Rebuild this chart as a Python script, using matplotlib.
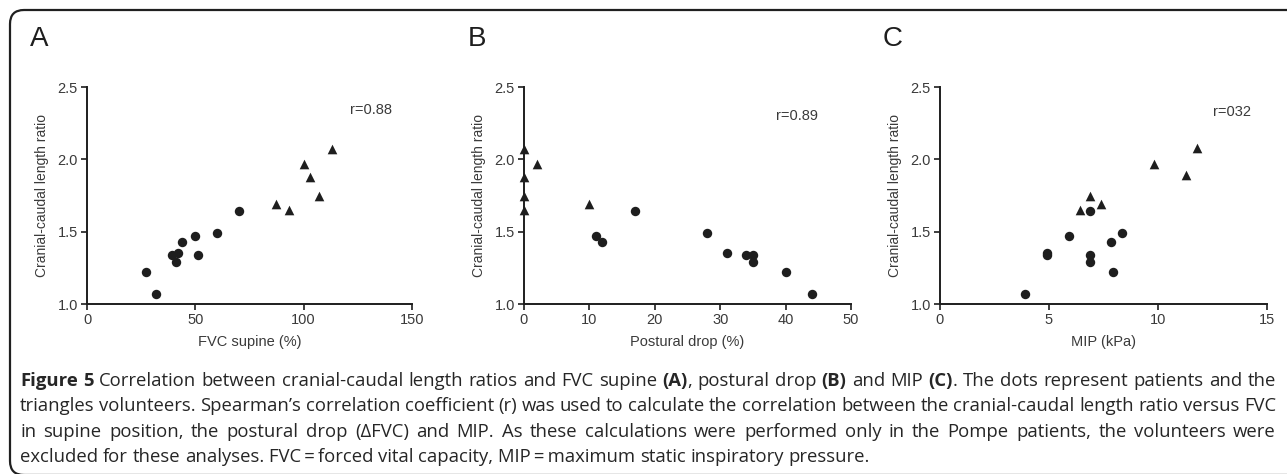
import matplotlib
matplotlib.use("Agg")
import matplotlib.pyplot as plt
import matplotlib.transforms as mtransforms
from matplotlib.patches import FancyBboxPatch

# Panel A: FVC supine (%)
a_pat_x = [27, 32, 39, 42, 41, 44, 50, 51, 60, 70]
a_pat_y = [1.22, 1.07, 1.34, 1.35, 1.29, 1.43, 1.47, 1.34, 1.49, 1.64]
a_vol_x = [87, 93, 100, 103, 107, 113]
a_vol_y = [1.69, 1.65, 1.97, 1.88, 1.75, 2.07]

# Panel B: postural drop (%)
b_pat_x = [11, 12, 17, 28, 31, 34, 35, 35, 40, 44]
b_pat_y = [1.47, 1.43, 1.64, 1.49, 1.35, 1.34, 1.34, 1.29, 1.22, 1.07]
b_vol_x = [0, 0, 0, 0, 2, 10]
b_vol_y = [2.07, 1.88, 1.75, 1.65, 1.97, 1.69]

# Panel C: MIP (kPa)
c_pat_x = [3.9, 4.9, 4.9, 5.9, 6.9, 6.9, 6.9, 7.85, 8.35, 7.95]
c_pat_y = [1.07, 1.35, 1.34, 1.47, 1.64, 1.34, 1.29, 1.43, 1.49, 1.22]
c_vol_x = [6.4, 6.9, 7.4, 9.8, 11.3, 11.8]
c_vol_y = [1.65, 1.75, 1.69, 1.97, 1.89, 2.08]

panel_letters = ['A', 'B', 'C']
x_labels = ['FVC supine (%)', 'Postural drop (%)', 'MIP (kPa)']
x_ticks = [[0, 50, 100, 150], [0, 10, 20, 30, 40, 50], [0, 5, 10, 15]]
r_texts = ['r=0.88', 'r=0.89', 'r=032']
y_ticks = [1.0, 1.5, 2.0, 2.5]

caption_lines = [
    "**Figure 5** Correlation between cranial-caudal length ratios and FVC supine **(A)**, postural drop **(B)** and MIP **(C)**. The dots represent patients and the",
    "triangles volunteers. Spearman\u2019s correlation coefficient (r) was used to calculate the correlation between the cranial-caudal length ratio versus FVC",
    "in supine position, the postural drop (\u0394FVC) and MIP. As these calculations were performed only in the Pompe patients, the volunteers were",
    "excluded for these analyses. FVC\u2009=\u2009forced vital capacity, MIP\u2009=\u2009maximum static inspiratory pressure.",
]

W, H = 1287, 474
fig = plt.figure(figsize=(W / 100, H / 100), dpi=100)
px = mtransforms.IdentityTransform()

ink = '#1e1e1e'
grey = '#3a3a3a'
plt.rcParams['font.family'] = ['Liberation Sans', 'DejaVu Sans']

# pixel layout of the three plot areas (left, right)
ax_left = [87, 524, 940]
ax_right = [412, 851, 1267]
ax_top, ax_bot = 87, 304
r_pos = [(131, 2.34), (41.7, 2.30), (13.4, 2.33)]
letter_x = [39, 477, 893]

data = [(a_pat_x, a_pat_y, a_vol_x, a_vol_y),
        (b_pat_x, b_pat_y, b_vol_x, b_vol_y),
        (c_pat_x, c_pat_y, c_vol_x, c_vol_y)]

for i in range(3):
    ax = fig.add_axes([ax_left[i] / W, 1 - ax_bot / H,
                       (ax_right[i] - ax_left[i]) / W, (ax_bot - ax_top) / H])
    px_, py_, vx_, vy_ = data[i]
    ax.scatter(px_, py_, marker='o', s=46, color=ink, linewidths=0, clip_on=False, zorder=3)
    ax.scatter(vx_, vy_, marker='^', s=48, color=ink, linewidths=0, clip_on=False, zorder=3)
    ax.set_xlim(x_ticks[i][0], x_ticks[i][-1])
    ax.set_ylim(1.0, 2.5)
    ax.set_xticks(x_ticks[i])
    ax.set_yticks(y_ticks)
    ax.set_yticklabels([f'{v:.1f}' for v in y_ticks])
    for s in ['top', 'right']:
        ax.spines[s].set_visible(False)
    for s in ['left', 'bottom']:
        ax.spines[s].set_linewidth(1.4)
        ax.spines[s].set_color(ink)
    ax.tick_params(direction='out', length=4.5, width=1.2, color=ink,
                   labelsize=10.5, labelcolor=grey, pad=2)
    ax.set_xlabel(x_labels[i], fontsize=10.5, color=grey, labelpad=6)
    ax.set_ylabel('Cranial-caudal length ratio', fontsize=10, color=grey, labelpad=6)
    ax.text(r_pos[i][0], r_pos[i][1], r_texts[i], fontsize=10.5, color=grey,
            ha='center', va='center')
    ax.patch.set_visible(False)
    fig.text(letter_x[i], H - 39, panel_letters[i], transform=px, fontsize=20,
             color=ink, ha='center', va='center')

# frame with rounded corners
frame = FancyBboxPatch((10, -1), 1300, H - 10 + 1,
                       boxstyle='round,pad=0,rounding_size=14',
                       transform=px, fill=False, edgecolor='#202020', linewidth=1.6)
fig.patches.append(frame)


# caption, drawn word by word so that lines are justified
def parse(line):
    words = [[]]
    for k, chunk in enumerate(line.split('**')):
        bold = (k % 2 == 1)
        parts = chunk.split(' ')
        for j, p in enumerate(parts):
            if j > 0:
                words.append([])
            if p:
                words[-1].append((p, bold))
    return [w for w in words if w]


cap_size = 13.3
cap_font = ['Open Sans', 'DejaVu Sans']
fig.canvas.draw()
renderer = fig.canvas.get_renderer()


def seg_width(txt, bold):
    t = fig.text(0, 0, txt, transform=px, fontsize=cap_size, family=cap_font,
                 weight='bold' if bold else 'normal')
    w = t.get_window_extent(renderer).width
    t.remove()
    return w


space_w = seg_width('x x', False) - seg_width('xx', False)
cap_left, cap_right = 20, 1276
baselines = [386, 411, 437, 462]

for li, line in enumerate(caption_lines):
    words = parse(line)
    widths = [[seg_width(t, b) for t, b in w] for w in words]
    total = sum(sum(w) for w in widths)
    if li < len(caption_lines) - 1:
        gap = (cap_right - cap_left - total) / (len(words) - 1)
    else:
        gap = space_w
    x = cap_left
    for w, ws in zip(words, widths):
        for (t, b), sw in zip(w, ws):
            fig.text(x, H - baselines[li], t, transform=px, fontsize=cap_size,
                     family=cap_font, weight='bold' if b else 'normal',
                     color='#262626', ha='left', va='baseline')
            x += sw
        x += gap

fig.savefig('out.png', dpi=100)
